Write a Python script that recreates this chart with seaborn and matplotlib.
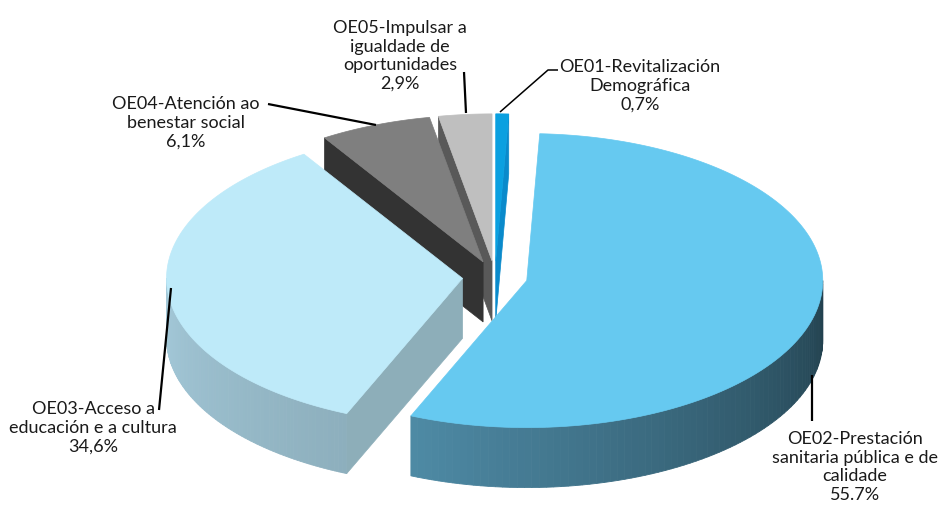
import numpy as np
import matplotlib
matplotlib.use("Agg")
import matplotlib.pyplot as plt
from matplotlib.patches import Polygon
from matplotlib.colors import to_rgb
import seaborn as sns

sns.set_theme(style="white")
plt.rcParams['font.family'] = ['Lato', 'DejaVu Sans']

# ---- data ----
categories = ["OE01-Revitalización\nDemográfica",
              "OE02-Prestación\nsanitaria pública e de\ncalidade",
              "OE03-Acceso a\neducación e a cultura",
              "OE04-Atención ao\nbenestar social",
              "OE05-Impulsar a\nigualdade de\noportunidades"]
values = [0.7, 55.7, 34.6, 6.1, 2.9]
pct_labels = ["0,7%", "55.7%", "34,6%", "6,1%", "2,9%"]

# ---- style ----
top_colors = ["#0AA0E0", "#66C9F0", "#BEEAF9", "#7F7F7F", "#BFBFBF"]
side_left = ["#0A88C0", "#4E8AA5", "#A4C9D9", "#3A3A3A", "#7A7A7A"]
side_right = ["#0A78A8", "#213F4C", "#8DAFBD", "#2A2A2A", "#6A6A6A"]
wall_colors = ["#0A8ACB", "#3F7890", "#8DAEB9", "#333333", "#595959"]

# layout (pixel space)
cx, cy = 495, 277
rx, ry = 296, 147
depth = 60
explode = 0.11

fig = plt.figure(figsize=(9.4, 5.08), dpi=100)
ax = fig.add_axes([0, 0, 1, 1])
ax.set_xlim(0, 940)
ax.set_ylim(508, 0)
ax.axis("off")

total = sum(values)
bounds = np.concatenate([[0], np.cumsum(values) / total * 360])


def pt(ox, oy, th, dz=0.0):
    t = np.deg2rad(th)
    return (ox + rx * np.sin(t), oy - ry * np.cos(t) + dz)


slices = []
for i, v in enumerate(values):
    a, b = bounds[i], bounds[i + 1]
    m = np.deg2rad((a + b) / 2)
    ox = cx + explode * rx * np.sin(m)
    oy = cy - explode * ry * np.cos(m)
    slices.append((np.cos(m), i, a, b, ox, oy))

# back to front
slices.sort(key=lambda s: -s[0])

for _, i, a, b, ox, oy in slices:
    # walls
    for th, is_start in ((a, True), (b, False)):
        thm = th % 360
        vis = (180 < thm < 360) if is_start else (0 < thm < 180)
        if not vis:
            continue
        p = pt(ox, oy, th)
        poly = [(ox, oy), p, (p[0], p[1] + depth), (ox, oy + depth)]
        ax.add_patch(Polygon(poly, closed=True, facecolor=wall_colors[i],
                             edgecolor=wall_colors[i], lw=0.5))
    # outer side (front facing part)
    s0, s1 = max(a, 90), min(b, 270)
    if s1 > s0:
        n = 80
        ths = np.linspace(s0, s1, n + 1)
        cl = np.array(to_rgb(side_left[i]))
        cr = np.array(to_rgb(side_right[i]))
        for k in range(n):
            t0, t1 = ths[k], ths[k + 1]
            f = ((t0 + t1) / 2 - s0) / (s1 - s0)
            col = cr + (cl - cr) * f
            p0, p1 = pt(ox, oy, t0), pt(ox, oy, t1)
            poly = [p0, p1, (p1[0], p1[1] + depth), (p0[0], p0[1] + depth)]
            ax.add_patch(Polygon(poly, closed=True, facecolor=col,
                                 edgecolor=col, lw=0.6))
    # top face
    ths = np.linspace(a, b, max(4, int((b - a) * 2)))
    arc = [pt(ox, oy, t) for t in ths]
    poly = [(ox, oy)] + arc
    ax.add_patch(Polygon(poly, closed=True, facecolor=top_colors[i],
                         edgecolor=top_colors[i], lw=0.5))

# ---- labels and leader lines ----
label_pos = [(640, 86), (855, 467), (93, 428), (186, 123), (400, 56)]
leaders = [
    [(500, 112), (548, 70), (558, 70)],
    [(812, 375), (812, 421)],
    [(171, 288), (159, 410)],
    [(376, 125), (268, 104)],
    [(466, 113), (464, 72)],
]
for i in range(len(values)):
    x, y = label_pos[i]
    ax.text(x, y, categories[i] + "\n" + pct_labels[i], ha="center",
            va="center", fontsize=13, color="#1a1a1a", linespacing=1.2)
    xs, ys = zip(*leaders[i])
    ax.plot(xs, ys, color="black", lw=1.6 if i else 1.1,
            solid_capstyle="butt")

fig.savefig("out.png", dpi=100)
